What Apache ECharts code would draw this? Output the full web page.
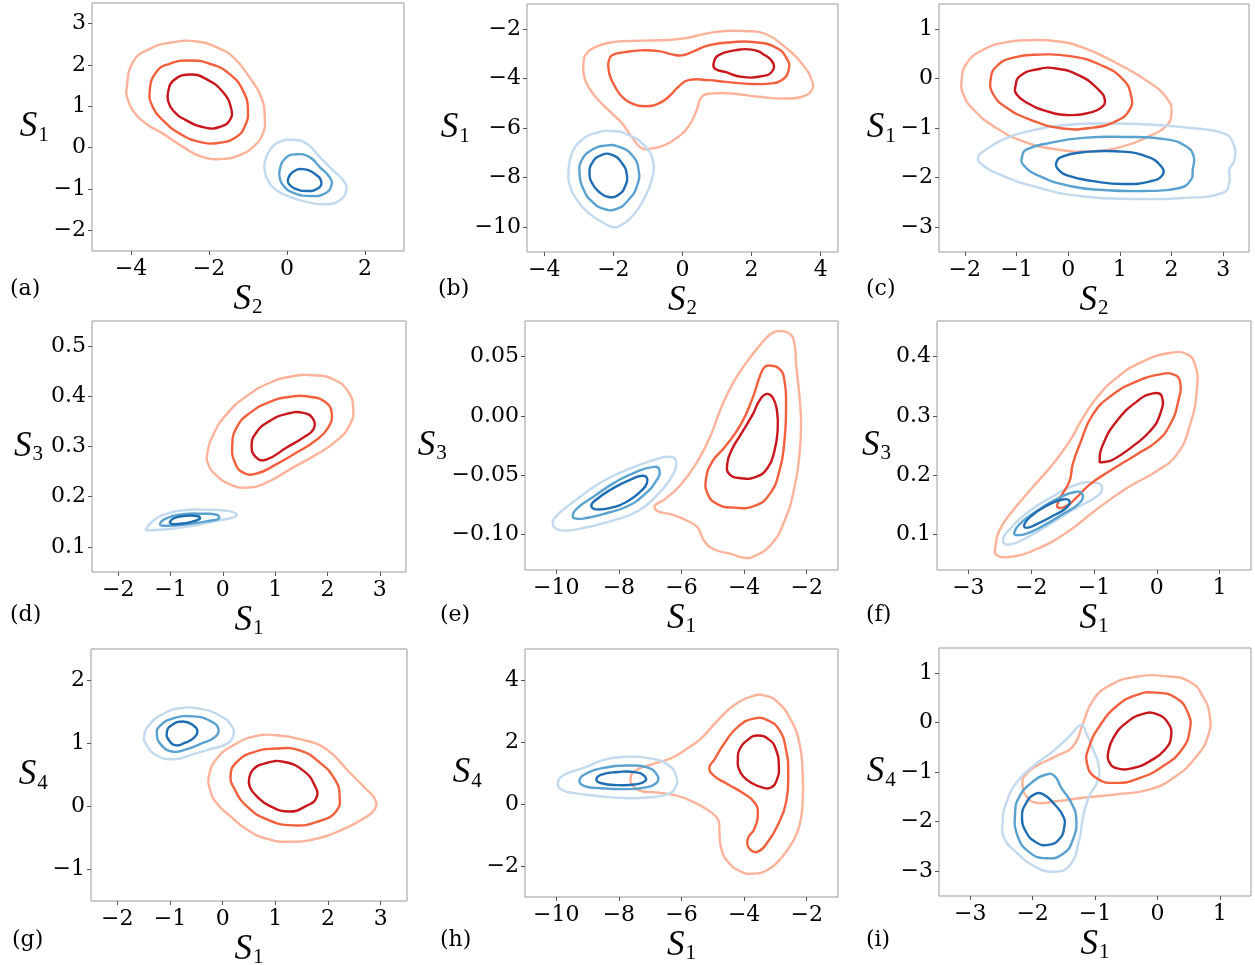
<!DOCTYPE html>
<html>
<head>
<meta charset="utf-8">
<script src="https://cdn.jsdelivr.net/npm/echarts@6/dist/echarts.min.js"></script>
<style>
  html, body { margin: 0; background: #fff; }
  #main { width: 1255px; height: 965px; }
</style>
</head>
<body>
<div id="main"></div>
<script>
// contour lines, [x, y] in data units
// every panel: [outer, middle, inner]
const aRed = [
  [[-4.12,1.38],[-3.95,2.07],[-3.52,2.39],[-2.92,2.55],[-2.32,2.57],[-1.81,2.43],[-1.38,2.19],[-0.96,1.70],[-0.66,1.22],[-0.57,0.74],[-0.62,0.34],[-0.87,0.02],[-1.21,-0.18],[-1.64,-0.27],[-2.15,-0.23],[-2.67,0.02],[-3.18,0.34],[-3.61,0.58],[-3.95,0.90],[-4.10,1.22]],
  [[-3.52,1.38],[-3.35,1.83],[-3.01,2.03],[-2.50,2.11],[-1.98,2.03],[-1.47,1.78],[-1.13,1.38],[-1.00,0.90],[-1.09,0.50],[-1.30,0.26],[-1.73,0.12],[-2.24,0.14],[-2.75,0.34],[-3.18,0.66],[-3.44,0.98]],
  [[-3.05,1.34],[-2.92,1.62],[-2.50,1.77],[-2.07,1.66],[-1.64,1.34],[-1.43,0.94],[-1.47,0.66],[-1.73,0.50],[-2.07,0.48],[-2.58,0.66],[-2.92,0.90],[-3.05,1.14]]
];
const aBlue = [
  [[-0.57,-0.35],[-0.44,-0.06],[-0.19,0.14],[0.15,0.19],[0.50,0.10],[0.84,-0.23],[1.18,-0.55],[1.44,-0.79],[1.52,-1.03],[1.35,-1.27],[1.01,-1.37],[0.50,-1.31],[0.07,-1.19],[-0.27,-1.03],[-0.49,-0.79],[-0.57,-0.55]],
  [[-0.19,-0.55],[-0.06,-0.27],[0.24,-0.16],[0.58,-0.23],[0.84,-0.47],[1.09,-0.71],[1.14,-0.91],[0.97,-1.11],[0.58,-1.17],[0.15,-1.09],[-0.10,-0.91],[-0.19,-0.71]],
  [[0.03,-0.75],[0.15,-0.59],[0.41,-0.52],[0.71,-0.63],[0.88,-0.83],[0.79,-0.99],[0.50,-1.05],[0.20,-0.99],[0.04,-0.87]]
];
const bRed = [
  [[-2.86,-3.34],[-2.81,-3.07],[-2.53,-2.74],[-2.04,-2.54],[-1.47,-2.49],[-0.89,-2.47],[-0.31,-2.44],[0.17,-2.36],[0.66,-2.20],[1.23,-2.09],[1.81,-2.09],[2.39,-2.20],[2.97,-2.74],[3.45,-3.40],[3.74,-4.07],[3.74,-4.47],[3.45,-4.74],[2.97,-4.81],[2.20,-4.74],[1.43,-4.61],[0.85,-4.61],[0.56,-4.74],[0.41,-5.28],[0.17,-5.95],[-0.12,-6.35],[-0.50,-6.68],[-0.89,-6.82],[-1.18,-6.82],[-1.47,-6.35],[-1.75,-5.81],[-2.04,-5.41],[-2.43,-4.88],[-2.72,-4.34],[-2.86,-3.81]],
  [[-2.14,-3.34],[-2.04,-3.07],[-1.66,-2.94],[-1.18,-2.87],[-0.69,-2.90],[-0.31,-3.03],[-0.02,-3.07],[0.27,-2.94],[0.75,-2.67],[1.43,-2.54],[2.10,-2.54],[2.68,-2.74],[3.02,-3.20],[3.07,-3.67],[2.87,-4.07],[2.49,-4.21],[1.81,-4.21],[1.23,-4.14],[0.75,-4.07],[0.17,-4.07],[-0.12,-4.34],[-0.40,-4.74],[-0.69,-5.01],[-1.08,-5.12],[-1.47,-5.01],[-1.75,-4.74],[-1.95,-4.34],[-2.09,-3.94],[-2.14,-3.61]],
  [[0.90,-3.40],[1.04,-3.07],[1.52,-2.87],[2.00,-2.84],[2.39,-3.07],[2.63,-3.40],[2.58,-3.74],[2.29,-3.91],[1.72,-3.94],[1.23,-3.74],[0.94,-3.61]]
];
const bBlue = [
  [[-3.30,-7.82],[-3.20,-7.02],[-2.91,-6.48],[-2.53,-6.21],[-2.04,-6.12],[-1.56,-6.28],[-1.08,-6.75],[-0.84,-7.42],[-0.89,-8.09],[-1.08,-8.76],[-1.37,-9.42],[-1.75,-9.89],[-2.00,-10.00],[-2.28,-9.83],[-2.72,-9.42],[-3.06,-8.89],[-3.25,-8.35]],
  [[-2.98,-7.82],[-2.91,-7.28],[-2.62,-6.88],[-2.24,-6.71],[-1.85,-6.75],[-1.47,-7.08],[-1.27,-7.69],[-1.32,-8.35],[-1.56,-8.89],[-1.90,-9.26],[-2.28,-9.26],[-2.62,-8.96],[-2.86,-8.49]],
  [[-2.69,-7.82],[-2.62,-7.42],[-2.38,-7.11],[-2.04,-7.08],[-1.75,-7.42],[-1.61,-7.89],[-1.66,-8.35],[-1.85,-8.69],[-2.14,-8.78],[-2.43,-8.56],[-2.62,-8.22]]
];
const cRed = [
  [[-2.06,-0.02],[-1.96,0.31],[-1.64,0.58],[-1.19,0.73],[-0.74,0.77],[-0.23,0.75],[0.29,0.62],[0.93,0.31],[1.58,-0.09],[1.93,-0.43],[2.00,-0.69],[1.90,-0.96],[1.58,-1.16],[1.06,-1.37],[0.42,-1.47],[-0.23,-1.43],[-0.87,-1.27],[-1.45,-0.96],[-1.83,-0.63],[-2.03,-0.32]],
  [[-1.50,-0.02],[-1.38,0.25],[-1.06,0.42],[-0.55,0.48],[0.03,0.45],[0.61,0.28],[1.06,-0.02],[1.22,-0.36],[1.19,-0.63],[0.93,-0.86],[0.42,-1.00],[-0.16,-1.00],[-0.74,-0.83],[-1.19,-0.59],[-1.45,-0.32]],
  [[-1.02,-0.16],[-0.93,0.05],[-0.61,0.18],[-0.23,0.20],[0.23,0.05],[0.58,-0.22],[0.71,-0.43],[0.64,-0.59],[0.42,-0.69],[0.03,-0.74],[-0.42,-0.66],[-0.80,-0.49],[-1.00,-0.32]]
];
const cBlue = [
  [[-1.74,-1.57],[-1.64,-1.47],[-1.25,-1.23],[-0.74,-1.06],[-0.03,-0.94],[0.80,-0.91],[1.58,-0.93],[2.35,-1.00],[2.99,-1.10],[3.19,-1.30],[3.22,-1.64],[3.12,-1.84],[3.12,-2.10],[2.99,-2.31],[2.22,-2.41],[1.25,-2.43],[0.29,-2.38],[-0.55,-2.21],[-1.32,-1.94],[-1.71,-1.70]],
  [[-0.89,-1.57],[-0.80,-1.43],[-0.35,-1.30],[0.29,-1.20],[1.06,-1.18],[1.90,-1.23],[2.28,-1.37],[2.43,-1.57],[2.41,-1.84],[2.38,-2.04],[2.16,-2.21],[1.45,-2.27],[0.68,-2.25],[0.03,-2.17],[-0.55,-1.97],[-0.87,-1.74]],
  [[-0.23,-1.70],[-0.10,-1.57],[0.29,-1.49],[0.93,-1.47],[1.51,-1.57],[1.80,-1.77],[1.83,-1.94],[1.61,-2.07],[1.06,-2.13],[0.48,-2.07],[0.03,-1.97],[-0.19,-1.84]]
];
const dRed = [
  [[-0.30,0.284],[-0.18,0.324],[0.07,0.364],[0.45,0.400],[0.90,0.427],[1.34,0.440],[1.73,0.442],[2.11,0.434],[2.39,0.410],[2.49,0.377],[2.43,0.344],[2.17,0.311],[1.79,0.284],[1.34,0.258],[0.83,0.228],[0.45,0.218],[0.13,0.225],[-0.15,0.245],[-0.28,0.265]],
  [[0.18,0.301],[0.26,0.337],[0.52,0.367],[0.90,0.389],[1.28,0.399],[1.66,0.399],[1.95,0.389],[2.08,0.367],[2.01,0.337],[1.76,0.311],[1.41,0.288],[1.03,0.265],[0.64,0.246],[0.39,0.248],[0.23,0.268]],
  [[0.55,0.301],[0.64,0.328],[0.90,0.351],[1.22,0.365],[1.54,0.367],[1.73,0.354],[1.73,0.334],[1.54,0.318],[1.22,0.298],[0.83,0.274],[0.64,0.278]]
];
const dBlue = [
  [[-1.47,0.135],[-1.33,0.152],[-1.08,0.166],[-0.76,0.173],[-0.31,0.174],[0.07,0.172],[0.26,0.166],[0.23,0.160],[-0.12,0.152],[-0.57,0.142],[-1.08,0.135],[-1.43,0.133]],
  [[-1.20,0.145],[-1.08,0.157],[-0.76,0.165],[-0.38,0.166],[-0.12,0.164],[-0.07,0.157],[-0.25,0.152],[-0.69,0.145],[-1.08,0.142]],
  [[-1.01,0.150],[-0.92,0.158],[-0.69,0.162],[-0.47,0.161],[-0.44,0.156],[-0.60,0.150],[-0.82,0.146],[-0.98,0.146]]
];
const eRed = [
  [[-2.93,0.0714],[-2.55,0.0692],[-2.39,0.0607],[-2.34,0.0438],[-2.23,0.0156],[-2.18,-0.0070],[-2.23,-0.0323],[-2.39,-0.0605],[-2.71,-0.0887],[-3.14,-0.1085],[-3.67,-0.1183],[-4.01,-0.1197],[-4.41,-0.1164],[-4.95,-0.1127],[-5.27,-0.1056],[-5.48,-0.0944],[-5.80,-0.0887],[-6.33,-0.0831],[-6.76,-0.0803],[-6.86,-0.0760],[-6.54,-0.0704],[-6.01,-0.0577],[-5.48,-0.0380],[-5.05,-0.0154],[-4.73,0.0071],[-4.31,0.0297],[-3.88,0.0466],[-3.46,0.0607],[-3.14,0.0692]],
  [[-3.19,0.0424],[-2.87,0.0396],[-2.71,0.0297],[-2.66,0.0071],[-2.71,-0.0211],[-2.87,-0.0464],[-3.19,-0.0662],[-3.67,-0.0760],[-4.31,-0.0774],[-4.84,-0.0746],[-5.16,-0.0662],[-5.21,-0.0521],[-5.00,-0.0380],[-4.63,-0.0267],[-4.10,-0.0070],[-3.72,0.0156],[-3.51,0.0325],[-3.35,0.0410]],
  [[-3.30,0.0184],[-3.09,0.0156],[-2.95,0.0043],[-2.93,-0.0126],[-3.03,-0.0295],[-3.24,-0.0436],[-3.62,-0.0515],[-4.10,-0.0526],[-4.47,-0.0492],[-4.54,-0.0408],[-4.41,-0.0295],[-4.10,-0.0154],[-3.72,0.0015],[-3.51,0.0128]]
];
const eBlue = [
  [[-10.11,-0.0915],[-9.95,-0.0831],[-9.41,-0.0718],[-8.67,-0.0577],[-7.82,-0.0464],[-6.97,-0.0380],[-6.33,-0.0346],[-6.17,-0.0394],[-6.33,-0.0521],[-6.76,-0.0662],[-7.39,-0.0803],[-8.24,-0.0887],[-9.10,-0.0944],[-9.84,-0.0966]],
  [[-9.47,-0.0831],[-9.31,-0.0774],[-8.78,-0.0676],[-8.14,-0.0563],[-7.50,-0.0478],[-6.86,-0.0430],[-6.70,-0.0464],[-6.81,-0.0549],[-7.18,-0.0662],[-7.71,-0.0760],[-8.35,-0.0817],[-8.99,-0.0859],[-9.41,-0.0865]],
  [[-8.88,-0.0760],[-8.78,-0.0718],[-8.24,-0.0619],[-7.61,-0.0535],[-7.18,-0.0507],[-7.10,-0.0563],[-7.29,-0.0633],[-7.71,-0.0718],[-8.24,-0.0774],[-8.72,-0.0789]]
];
const fRed = [
  [[-2.56,0.066],[-2.35,0.062],[-1.92,0.075],[-1.44,0.103],[-0.96,0.142],[-0.48,0.178],[0.00,0.207],[0.32,0.235],[0.53,0.285],[0.64,0.347],[0.61,0.386],[0.48,0.404],[0.21,0.406],[-0.22,0.392],[-0.64,0.364],[-0.96,0.330],[-1.18,0.296],[-1.39,0.257],[-1.66,0.218],[-1.98,0.179],[-2.30,0.139],[-2.51,0.106],[-2.57,0.078]],
  [[0.26,0.370],[0.37,0.358],[0.34,0.324],[0.21,0.285],[0.00,0.257],[-0.32,0.235],[-0.75,0.207],[-1.07,0.184],[-1.28,0.162],[-1.44,0.148],[-1.58,0.146],[-1.55,0.159],[-1.39,0.190],[-1.34,0.218],[-1.23,0.251],[-1.02,0.302],[-0.70,0.336],[-0.32,0.358],[0.05,0.370]],
  [[-0.91,0.223],[-0.86,0.251],[-0.64,0.291],[-0.32,0.324],[-0.06,0.338],[0.08,0.333],[0.05,0.302],[-0.11,0.274],[-0.38,0.249],[-0.70,0.226],[-0.86,0.222]]
];
const fBlue = [
  [[-2.45,0.089],[-2.35,0.108],[-2.03,0.139],[-1.66,0.164],[-1.28,0.184],[-0.96,0.187],[-0.87,0.178],[-0.96,0.164],[-1.28,0.145],[-1.71,0.117],[-2.08,0.094],[-2.35,0.083]],
  [[-2.27,0.103],[-2.19,0.117],[-1.92,0.139],[-1.55,0.162],[-1.28,0.172],[-1.18,0.167],[-1.23,0.153],[-1.50,0.134],[-1.82,0.114],[-2.08,0.101],[-2.24,0.099]],
  [[-2.11,0.117],[-2.00,0.131],[-1.76,0.148],[-1.50,0.159],[-1.39,0.156],[-1.44,0.145],[-1.66,0.131],[-1.92,0.117],[-2.08,0.111]]
];
const gRed = [
  [[-0.26,0.49],[-0.12,0.75],[0.20,0.97],[0.64,1.12],[1.02,1.13],[1.46,1.07],[1.97,0.91],[2.41,0.54],[2.73,0.27],[2.89,0.12],[2.89,-0.04],[2.66,-0.20],[2.29,-0.36],[1.84,-0.50],[1.27,-0.56],[0.83,-0.51],[0.45,-0.36],[0.14,-0.15],[-0.12,0.06],[-0.24,0.27]],
  [[0.15,0.49],[0.26,0.70],[0.58,0.86],[1.02,0.92],[1.46,0.89],[1.84,0.70],[2.13,0.43],[2.22,0.17],[2.16,-0.07],[1.84,-0.23],[1.34,-0.30],[0.83,-0.20],[0.45,0.01],[0.23,0.27]],
  [[0.50,0.43],[0.58,0.59],[0.83,0.69],[1.15,0.71],[1.53,0.57],[1.75,0.33],[1.78,0.14],[1.59,0.01],[1.27,-0.08],[0.89,0.01],[0.64,0.17],[0.52,0.30]]
];
const gBlue = [
  [[-1.49,1.12],[-1.38,1.31],[-1.13,1.47],[-0.81,1.56],[-0.43,1.55],[-0.05,1.44],[0.17,1.28],[0.20,1.12],[0.07,0.99],[-0.24,0.91],[-0.56,0.83],[-0.94,0.75],[-1.25,0.81],[-1.44,0.97]],
  [[-1.25,1.15],[-1.19,1.28],[-0.94,1.40],[-0.56,1.43],[-0.24,1.36],[-0.08,1.23],[-0.15,1.10],[-0.43,0.99],[-0.68,0.91],[-0.94,0.87],[-1.16,0.97]],
  [[-1.06,1.18],[-0.97,1.29],[-0.75,1.35],[-0.56,1.29],[-0.48,1.20],[-0.56,1.08],[-0.72,1.01],[-0.88,0.97],[-1.01,1.04]]
];
const hRed = [
  [[-7.63,0.79],[-7.50,1.06],[-6.97,1.27],[-6.33,1.48],[-5.80,1.80],[-5.37,2.12],[-4.84,2.70],[-4.31,3.19],[-3.67,3.50],[-3.35,3.50],[-2.93,3.29],[-2.50,2.70],[-2.23,1.96],[-2.13,1.01],[-2.13,0.05],[-2.23,-0.69],[-2.45,-1.22],[-2.82,-1.75],[-3.24,-2.12],[-3.72,-2.25],[-4.10,-2.18],[-4.52,-1.86],[-4.73,-1.44],[-4.79,-0.91],[-4.82,-0.53],[-5.05,-0.27],[-5.59,0.05],[-6.12,0.26],[-6.76,0.37],[-7.29,0.42],[-7.55,0.58]],
  [[-5.11,1.17],[-4.95,1.43],[-4.63,1.96],[-4.20,2.49],[-3.67,2.76],[-3.24,2.70],[-2.87,2.38],[-2.66,1.75],[-2.59,1.01],[-2.66,0.05],[-2.93,-0.69],[-3.24,-1.22],[-3.56,-1.54],[-3.83,-1.44],[-3.88,-1.12],[-3.67,-0.80],[-3.56,-0.27],[-3.67,0.05],[-3.99,0.32],[-4.52,0.64],[-4.95,0.90]],
  [[-4.20,1.43],[-4.15,1.75],[-3.88,2.07],[-3.56,2.21],[-3.19,2.07],[-2.98,1.75],[-2.89,1.22],[-2.95,0.79],[-3.14,0.53],[-3.40,0.53],[-3.78,0.69],[-4.04,0.90],[-4.18,1.17]]
];
const hBlue = [
  [[-9.95,0.69],[-9.73,0.95],[-9.10,1.17],[-8.46,1.43],[-7.82,1.52],[-7.07,1.48],[-6.44,1.27],[-6.17,0.90],[-6.20,0.53],[-6.44,0.32],[-7.07,0.21],[-7.82,0.19],[-8.67,0.26],[-9.41,0.35],[-9.84,0.47]],
  [[-9.26,0.74],[-9.10,0.95],[-8.46,1.17],[-7.71,1.24],[-7.07,1.17],[-6.76,0.90],[-6.81,0.67],[-7.18,0.53],[-7.82,0.48],[-8.56,0.51],[-9.10,0.58]],
  [[-8.72,0.79],[-8.56,0.95],[-8.03,1.03],[-7.50,1.03],[-7.18,0.90],[-7.16,0.74],[-7.50,0.63],[-8.03,0.61],[-8.56,0.67]]
];
const iRed = [
  [[-2.16,-1.28],[-2.13,-1.08],[-1.94,-0.88],[-1.62,-0.68],[-1.35,-0.48],[-1.19,-0.01],[-1.03,0.45],[-0.76,0.75],[-0.34,0.92],[0.14,0.93],[0.52,0.82],[0.73,0.52],[0.84,0.12],[0.81,-0.28],[0.63,-0.68],[0.30,-1.08],[-0.12,-1.35],[-0.66,-1.45],[-1.19,-1.52],[-1.62,-1.59],[-1.94,-1.62],[-2.10,-1.49]],
  [[-1.13,-0.82],[-1.09,-0.48],[-0.93,-0.08],[-0.66,0.32],[-0.34,0.55],[-0.02,0.60],[0.30,0.49],[0.49,0.19],[0.52,-0.15],[0.39,-0.55],[0.09,-0.88],[-0.28,-1.12],[-0.66,-1.22],[-0.98,-1.12]],
  [[-0.79,-0.62],[-0.71,-0.32],[-0.50,-0.01],[-0.23,0.17],[-0.02,0.17],[0.17,-0.01],[0.22,-0.28],[0.12,-0.55],[-0.12,-0.78],[-0.39,-0.92],[-0.66,-0.92],[-0.78,-0.78]]
];
const iBlue = [
  [[-2.48,-1.99],[-2.42,-1.62],[-2.26,-1.22],[-1.99,-0.88],[-1.67,-0.58],[-1.41,-0.28],[-1.22,-0.05],[-1.14,-0.22],[-1.03,-0.55],[-0.95,-0.82],[-0.95,-1.15],[-1.09,-1.48],[-1.19,-1.89],[-1.25,-2.35],[-1.41,-2.89],[-1.67,-3.01],[-1.99,-2.89],[-2.26,-2.62],[-2.45,-2.35]],
  [[-2.28,-1.82],[-2.21,-1.49],[-2.02,-1.22],[-1.78,-1.05],[-1.65,-1.08],[-1.54,-1.32],[-1.38,-1.62],[-1.30,-1.95],[-1.35,-2.35],[-1.51,-2.65],[-1.78,-2.74],[-2.05,-2.62],[-2.24,-2.29]],
  [[-2.17,-1.89],[-2.10,-1.62],[-1.97,-1.45],[-1.83,-1.45],[-1.65,-1.65],[-1.51,-1.89],[-1.49,-2.09],[-1.57,-2.35],[-1.75,-2.47],[-1.94,-2.42],[-2.10,-2.22]]
];

const panelLabels = ['(a)', '(b)', '(c)', '(d)', '(e)', '(f)', '(g)', '(h)', '(i)'];
const xNames = ['2', '2', '2', '1', '1', '1', '1', '1', '1'];
const yNames = ['1', '1', '1', '3', '3', '3', '4', '4', '4'];
const xTicks = [
  [-4, -2, 0, 2], [-4, -2, 0, 2, 4], [-2, -1, 0, 1, 2, 3],
  [-2, -1, 0, 1, 2, 3], [-10, -8, -6, -4, -2], [-3, -2, -1, 0, 1],
  [-2, -1, 0, 1, 2, 3], [-10, -8, -6, -4, -2], [-3, -2, -1, 0, 1]
];
const yTicks = [
  [-2, -1, 0, 1, 2, 3], [-10, -8, -6, -4, -2], [-3, -2, -1, 0, 1],
  [0.1, 0.2, 0.3, 0.4, 0.5], [-0.10, -0.05, 0.00, 0.05], [0.1, 0.2, 0.3, 0.4],
  [-1, 0, 1, 2], [-2, 0, 2, 4], [-3, -2, -1, 0, 1]
];
const xRange = [[-5, 3], [-4.5, 4.5], [-2.5, 3.5], [-2.5, 3.5], [-11, -1], [-3.5, 1.5], [-2.5, 3.5], [-11, -1], [-3.5, 1.5]];
const yRange = [[-2.5, 3.5], [-11, -1], [-3.5, 1.5], [0.05, 0.55], [-0.13, 0.08], [0.04, 0.46], [-1.5, 2.5], [-3, 5], [-3.5, 1.5]];
const yDecimals = [0, 0, 0, 1, 2, 1, 0, 0, 0];

const redSets = [aRed, bRed, cRed, dRed, eRed, fRed, gRed, hRed, iRed];
const blueSets = [aBlue, bBlue, cBlue, dBlue, eBlue, fBlue, gBlue, hBlue, iBlue];

// layout (px)
const grids = [
  { left: 92, top: 3, width: 312, height: 248 },
  { left: 527, top: 4, width: 311, height: 248 },
  { left: 939, top: 4, width: 310, height: 248 },
  { left: 92, top: 321, width: 314, height: 251 },
  { left: 525, top: 321, width: 313, height: 249 },
  { left: 937, top: 321, width: 314, height: 249 },
  { left: 91, top: 649, width: 316, height: 252 },
  { left: 525, top: 649, width: 313, height: 248 },
  { left: 939, top: 648, width: 312, height: 248 }
];
const yNameGap = [34, 48, 35, 49, 72, 45, 41, 42, 42];
const labelPos = [[10, 278], [438, 278], [866, 278], [10, 604], [440, 604], [866, 604], [12, 929], [440, 929], [866, 929]];

const redColors = ['#fcb399', '#f3603e', '#c9181d'];
const blueColors = ['#c2d9ee', '#5aa2cf', '#1f6db2'];
const tickFont = "'DejaVu Serif', serif";
const nameFont = "'Liberation Serif', serif";

function fmt(dec) {
  return function (v) {
    let s = Math.abs(v).toFixed(dec);
    return (v < -1e-9 ? '\u2212' : '') + s;
  };
}

// closed smooth contour through the ring's points, placed by the axes
function contour(ring, color) {
  return function (params, api) {
    if (params.dataIndex !== 0) return null;
    let pts = ring.map(function (p) { return api.coord(p); });
    return {
      type: 'polygon',
      shape: { points: pts, smooth: 0.5 },
      style: { fill: 'none', stroke: color, lineWidth: 2.4 }
    };
  };
}

let nameRich = {
  s: { fontFamily: nameFont, fontStyle: 'italic', fontSize: 35, color: '#000', lineHeight: 34 },
  sub: { fontFamily: nameFont, fontSize: 21, color: '#000', lineHeight: 34, padding: [16, 0, 0, 1] }
};

let myChart = echarts.init(document.getElementById('main'), null, { renderer: 'canvas' });

let option = {
  animation: false,
  backgroundColor: '#fff',
  title: [],
  grid: [],
  xAxis: [],
  yAxis: [],
  series: []
};

for (let i = 0; i < 9; i++) {
  option.grid.push(Object.assign({
    show: true,
    borderColor: '#9a9a9a',
    borderWidth: 1,
    backgroundColor: '#fff',
    containLabel: false,
    outerBoundsMode: 'none'
  }, grids[i]));

  option.title.push({
    text: panelLabels[i],
    left: labelPos[i][0],
    top: labelPos[i][1],
    padding: 0,
    textStyle: { fontFamily: tickFont, fontSize: 22, fontWeight: 'normal', color: '#000' }
  });

  option.xAxis.push({
    type: 'value',
    gridIndex: i,
    min: xRange[i][0],
    max: xRange[i][1],
    splitLine: { show: false },
    axisLine: { show: false, onZero: false },
    axisTick: { show: true, length: 4, lineStyle: { color: '#555' }, customValues: xTicks[i] },
    axisLabel: {
      customValues: xTicks[i],
      formatter: fmt(0),
      margin: 7,
      fontFamily: tickFont,
      fontSize: 22,
      color: '#000'
    },
    name: '{s|S}{sub|' + xNames[i] + '}',
    nameLocation: 'middle',
    nameGap: 12,
    nameTextStyle: { rich: nameRich }
  });

  option.yAxis.push({
    type: 'value',
    gridIndex: i,
    min: yRange[i][0],
    max: yRange[i][1],
    splitLine: { show: false },
    axisLine: { show: false, onZero: false },
    axisTick: { show: true, length: 4, lineStyle: { color: '#555' }, customValues: yTicks[i] },
    axisLabel: {
      customValues: yTicks[i],
      formatter: fmt(yDecimals[i]),
      margin: 6,
      fontFamily: tickFont,
      fontSize: 22,
      color: '#000'
    },
    name: '{s|S}{sub|' + yNames[i] + '}',
    nameLocation: 'middle',
    nameRotate: 0,
    nameGap: yNameGap[i],
    nameTextStyle: { rich: nameRich }
  });

  let sets = [[redSets[i], redColors], [blueSets[i], blueColors]];
  sets.forEach(function (pair) {
    pair[0].forEach(function (ring, k) {
      option.series.push({
        type: 'custom',
        coordinateSystem: 'cartesian2d',
        xAxisIndex: i,
        yAxisIndex: i,
        data: ring,
        silent: true,
        renderItem: contour(ring, pair[1][k]),
        z: 2 + k
      });
    });
  });
}

myChart.setOption(option);
</script>
</body>
</html>
